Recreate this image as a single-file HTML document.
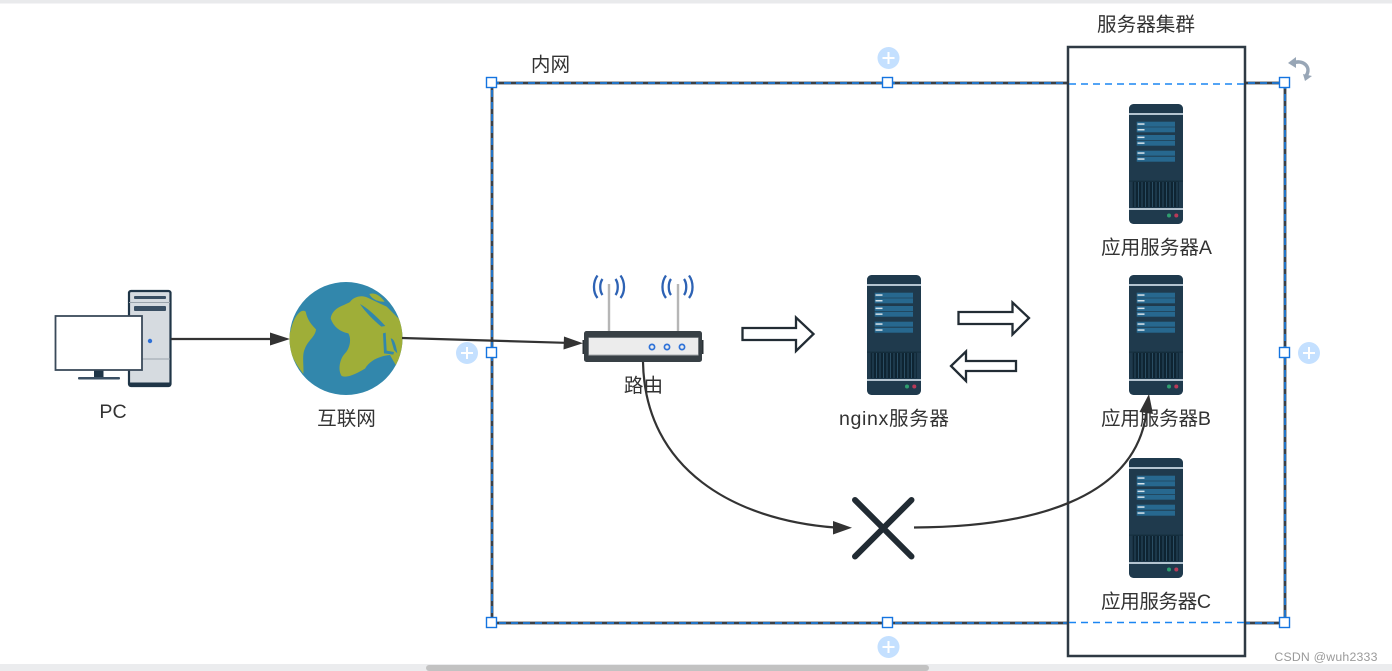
<!DOCTYPE html>
<html><head><meta charset="utf-8"><style>
html,body{margin:0;padding:0;background:#fff;width:1392px;height:671px;overflow:hidden}
svg{display:block}
text{font-family:"Liberation Sans","Noto Sans CJK SC",sans-serif;font-size:19.6px;fill:#333;text-anchor:middle}
</style></head><body>
<svg width="1392" height="671" viewBox="0 0 1392 671" xmlns="http://www.w3.org/2000/svg">
<defs>
<clipPath id="gc"><circle cx="346" cy="338.500" r="56.500"/></clipPath>
<g id="srv">
<rect x="0" y="0" width="54" height="120" rx="4.500" fill="#1f3a4d"/>
<rect x="0" y="9" width="54" height="2" fill="#b4c4d0"/>
<g fill="#27688f">
<rect x="7.700" y="17.700" width="38.300" height="5"/><rect x="7.700" y="23.300" width="38.300" height="5"/>
<rect x="7.700" y="31" width="38.300" height="5"/><rect x="7.700" y="36.700" width="38.300" height="5"/>
<rect x="7.700" y="46.700" width="38.300" height="5"/><rect x="7.700" y="52.700" width="38.300" height="5"/>
</g>
<g fill="#d4e2ea">
<rect x="8.500" y="19.300" width="7" height="1.500"/><rect x="8.500" y="25" width="7" height="1.500"/>
<rect x="8.500" y="32.600" width="7" height="1.500"/><rect x="8.500" y="38.400" width="7" height="1.500"/>
<rect x="8.500" y="48.300" width="7" height="1.500"/><rect x="8.500" y="54.300" width="7" height="1.500"/>
</g>
<rect x="0" y="76.500" width="54" height="1.200" fill="#16303f"/>
<rect x="3.700" y="77.700" width="46" height="25.500" fill="#0e2432"/>
<path d="M6 78V103M9.500 78V103M13 78V103M16.500 78V103M20 78V103M23.500 78V103M27 78V103M30.500 78V103M34 78V103M37.500 78V103M41 78V103M44.500 78V103M48 78V103" stroke="#2a4d63" stroke-width="1"/>
<rect x="0" y="104" width="54" height="2" fill="#b4c4d0"/>
<circle cx="40" cy="111.500" r="2" fill="#2f9e6f"/>
<circle cx="47.300" cy="111.500" r="2" fill="#b83a58"/>
</g>
</defs>

<rect x="0" y="0" width="1392" height="3.500" fill="#e9eaec"/>
<rect x="0" y="664" width="1392" height="7" fill="#ebecee"/>
<rect x="426" y="665" width="503" height="6" rx="3" fill="#c2c2c2"/>

<!-- intranet frame -->
<rect x="492" y="83" width="793" height="540" fill="none" stroke="#3a4047" stroke-width="2.800"/>
<rect x="492" y="83" width="793" height="540" fill="none" stroke="#1a86f2" stroke-width="1.500" stroke-dasharray="7 5"/>

<!-- cluster box -->
<rect x="1068" y="47" width="177" height="609" fill="#fff" stroke="#2f3a44" stroke-width="2.500"/>
<path d="M1069 84H1244M1069 622.500H1244" stroke="#1a86f2" stroke-width="1.500" stroke-dasharray="7 5" fill="none"/>

<!-- handles -->
<g fill="#fff" stroke="#1474e0" stroke-width="1.400">
<rect x="486.500" y="77.500" width="10" height="10"/><rect x="882.500" y="77.500" width="10" height="10"/><rect x="1279.500" y="77.500" width="10" height="10"/>
<rect x="486.500" y="347.500" width="10" height="10"/><rect x="1279.500" y="347.500" width="10" height="10"/>
<rect x="486.500" y="617.500" width="10" height="10"/><rect x="882.500" y="617.500" width="10" height="10"/><rect x="1279.500" y="617.500" width="10" height="10"/>
</g>

<!-- plus circles -->
<g>
<circle cx="888.500" cy="58" r="11" fill="#c4e0ff"/><path d="M882.500 58H894.500M888.500 52V64" stroke="#fff" stroke-width="2"/>
<circle cx="467" cy="353" r="11" fill="#c4e0ff"/><path d="M461 353H473M467 347V359" stroke="#fff" stroke-width="2"/>
<circle cx="1309" cy="353" r="11" fill="#c4e0ff"/><path d="M1303 353H1315M1309 347V359" stroke="#fff" stroke-width="2"/>
<circle cx="888.500" cy="647" r="11" fill="#c4e0ff"/><path d="M882.500 647H894.500M888.500 641V653" stroke="#fff" stroke-width="2"/>
</g>

<!-- rotate icon -->
<path d="M1293 63C1303 59 1312 67 1306 76" fill="none" stroke="#98a6b6" stroke-width="3.500"/>
<path d="M1288 63L1296 57L1296 68Z" fill="#98a6b6"/>
<path d="M1303 74L1312 76L1305 81Z" fill="#98a6b6"/>

<!-- PC -->
<rect x="129" y="291" width="41.500" height="95" rx="2" fill="#d6dbe0" stroke="#1f3547" stroke-width="2.200"/>
<rect x="129" y="382.500" width="41.500" height="4" fill="#1f3547"/>
<rect x="134" y="296" width="32" height="3" rx="1" fill="#3a4f63"/>
<rect x="134" y="306" width="32" height="5" rx="1" fill="#3a4f63"/>
<path d="M129 302.500H170M129 359H170" stroke="#9aa3ab" stroke-width="1"/>
<circle cx="150" cy="341" r="2.200" fill="#2c6fd6"/>
<rect x="94" y="369" width="9.500" height="9" fill="#1f3547"/>
<rect x="78" y="377" width="42" height="2.500" rx="1" fill="#3a4f63"/>
<rect x="55.500" y="316" width="86.500" height="54" fill="#fff" stroke="#3a4a5a" stroke-width="1.800"/>

<!-- PC to globe arrow -->
<path d="M171 339H273" stroke="#333" stroke-width="2.200" fill="none"/>
<path d="M270 332.500L290 339L270 345.500Z" fill="#333"/>

<!-- globe -->
<circle cx="346" cy="338.500" r="56.500" fill="#3287ac"/>
<g clip-path="url(#gc)">
<g transform="translate(40,270) scale(.33333)" fill="#9fae38">
<path d="M872 145C878 112 910 108 930 96C942 78 968 74 985 84L1040 110L1100 170V230L1070 290L1050 255C1020 258 990 270 975 296C950 310 925 325 905 318C892 300 900 265 915 250C930 235 935 205 925 190C900 185 880 170 872 145Z"/>
<path d="M755 170C765 135 785 115 797 125C802 150 815 165 828 178C826 200 805 210 795 235C785 255 792 285 790 312C770 285 745 250 745 205Z"/>
<path d="M988 72C1005 66 1022 78 1034 95C1012 96 995 86 988 72Z"/>
</g>
<g transform="translate(40,270) scale(.33333)" fill="#3287ac">
<path d="M960 102C985 115 1015 145 1036 168L1024 170C1000 150 975 125 960 102Z"/>
<path d="M1029 190L1037 188L1040 242L1062 246L1060 254L1032 250Z"/>
<path d="M1052 205C1062 205 1068 225 1072 250L1062 240Z"/>
</g>
</g>
<path d="M402 338L565 342.800" stroke="#333" stroke-width="2.200" fill="none"/>
<path d="M564 336.500L583 343.300L563.500 349.500Z" fill="#333"/>

<!-- router -->
<rect x="607.800" y="284" width="2.400" height="48" fill="#b6b6b6"/>
<rect x="676.800" y="284" width="2.400" height="48" fill="#b6b6b6"/>
<g fill="none" stroke="#2d62b4" stroke-width="2.300">
<path d="M602.500 279C599.500 283 599.500 291 602.500 295M615.500 279C618.500 283 618.500 291 615.500 295"/>
<path d="M597.500 275.500C592.800 282 592.800 292 597.500 298M620.500 275.500C625.200 282 625.200 292 620.500 298"/>
<path d="M671 279C668 283 668 291 671 295M684 279C687 283 687 291 684 295"/>
<path d="M666 275.500C661.300 282 661.300 292 666 298M689 275.500C693.700 282 693.700 292 689 298"/>
</g>
<rect x="582.500" y="340" width="3" height="14" fill="#2a3136"/>
<rect x="700.500" y="340" width="3" height="14" fill="#2a3136"/>
<rect x="584" y="331" width="118" height="31" rx="2.500" fill="#384045"/>
<rect x="588.500" y="337.500" width="110" height="18" fill="#a8acae"/>
<rect x="589" y="338" width="109" height="16.500" fill="#ececec"/>
<g fill="none" stroke="#2f72d8" stroke-width="1.700">
<circle cx="652" cy="347" r="2.600"/><circle cx="667" cy="347" r="2.600"/><circle cx="682" cy="347" r="2.600"/>
</g>

<!-- hollow arrows -->
<g fill="#fff" stroke="#222c34" stroke-width="2.300">
<path d="M742.500 328H796V317.500L813.500 334L796 351V340H742.500Z"/>
<path d="M958.500 312H1012.500V302.500L1029 318L1012.500 334.500V324H958.500Z"/>
<path d="M1016 361H966V351.500L951 366L966 381V371H1016Z"/>
</g>

<!-- servers -->
<use href="#srv" x="1129" y="104"/>
<use href="#srv" x="1129" y="275"/>
<use href="#srv" x="1129" y="458"/>
<use href="#srv" x="867" y="275"/>

<!-- curves -->
<path d="M643 362C645 470 735 520 835 527.500" fill="none" stroke="#333" stroke-width="2.200"/>
<path d="M833 521L852 527.800L833 534.500Z" fill="#333"/>
<path d="M914 527.500C1030 527 1135 500 1146.500 412" fill="none" stroke="#333" stroke-width="2.200"/>
<path d="M1139.500 412L1149 394L1153 414Z" fill="#333"/>

<!-- X -->
<path d="M855 500L911.500 556.500M911.500 500L855 556.500" stroke="#212b33" stroke-width="6" stroke-linecap="round"/>

<!-- labels -->
<text x="113" y="418">PC</text>
<text x="346.500" y="425">互联网</text>
<text x="643.500" y="392">路由</text>
<text x="894" y="425" textLength="110" lengthAdjust="spacing">nginx服务器</text>
<text x="1156.500" y="254" textLength="111" lengthAdjust="spacing">应用服务器A</text>
<text x="1156" y="425" textLength="110" lengthAdjust="spacing">应用服务器B</text>
<text x="1156" y="608" textLength="110" lengthAdjust="spacing">应用服务器C</text>
<text x="1146" y="31">服务器集群</text>
<text x="550.500" y="71">内网</text>
<text x="1326" y="661" style="font-size:12.300px;fill:#9a9a9a;letter-spacing:.2px">CSDN @wuh2333</text>
</svg>
</body></html>
